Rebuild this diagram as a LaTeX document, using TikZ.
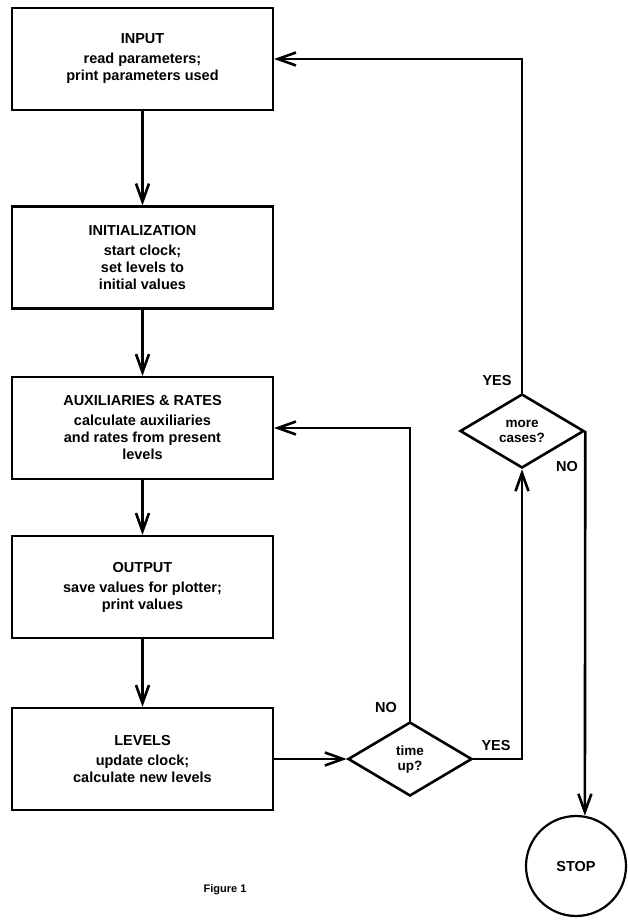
\documentclass[tikz,border=0pt]{standalone}
\usepackage{fontspec}
\setmainfont{Liberation Sans}
\usetikzlibrary{arrows.meta,shapes.geometric}
\tikzset{
  >={Straight Barb[length=18pt,width=13pt]},
  caja/.style={draw,line width=2.2pt,minimum width=261pt,minimum height=102pt,align=center,font=\bfseries\fontsize{14.5}{17}\selectfont},
  decision/.style={draw,diamond,line width=2.6pt,minimum width=124pt,minimum height=74pt,inner sep=0pt,align=center,font=\bfseries\fontsize{13.5}{15}\selectfont},
  etiqueta/.style={font=\bfseries\fontsize{14.5}{17}\selectfont},
  flecha/.style={->,line width=2.6pt},
}
\begin{document}
\begin{tikzpicture}[x=1pt,y=-1pt]
  \useasboundingbox (0,0) rectangle (627,920);
  % Cajas del proceso
  \node[caja] (entrada) at (142.5,59) {INPUT\\[3pt] read parameters;\\ print parameters used};
  \node[caja] (inicio) at (142.5,257.5) {INITIALIZATION\\[3pt] start clock;\\ set levels to\\ initial values};
  \node[caja] (aux) at (142.5,428) {AUXILIARIES \& RATES\\[3pt] calculate auxiliaries\\ and rates from present\\ levels};
  \node[caja] (salida) at (142.5,587) {OUTPUT\\[3pt] save values for plotter;\\ print values};
  \node[caja] (niveles) at (142.5,759) {LEVELS\\[3pt] update clock;\\ calculate new levels};

  % Decisiones y fin
  \node[decision] (tiempo) at (410,759) {time\\ up?};
  \node[decision] (casos) at (522,431) {more\\ cases?};
  \node[draw,circle,line width=2.2pt,minimum size=100pt,font=\bfseries\fontsize{14.5}{17}\selectfont] (fin) at (576,866) {STOP};

  % Flechas hacia abajo
  \draw[flecha] (entrada) -- (inicio);
  \draw[flecha] (inicio) -- (aux);
  \draw[flecha] (aux) -- (salida);
  \draw[flecha] (salida) -- (niveles);
  \draw[flecha] (niveles) -- (tiempo);

  % Lazos de vuelta
  \draw[flecha] (tiempo.north) |- (aux.east);
  \draw[flecha] (tiempo.east) -| (casos.south);
  \draw[flecha] (casos.north) |- (entrada.east);
  \draw[flecha] (casos.east) -- (fin.80);

  % Etiquetas
  \node[etiqueta] (no1) at (386,708) {NO};
  \node[etiqueta] (si1) at (496,745) {YES};
  \node[etiqueta] (si2) at (497,381) {YES};
  \node[etiqueta] (no2) at (567,467) {NO};
  \node[font=\bfseries\fontsize{11}{13}\selectfont] (figura) at (225,890) {Figure 1};
\end{tikzpicture}
\end{document}
